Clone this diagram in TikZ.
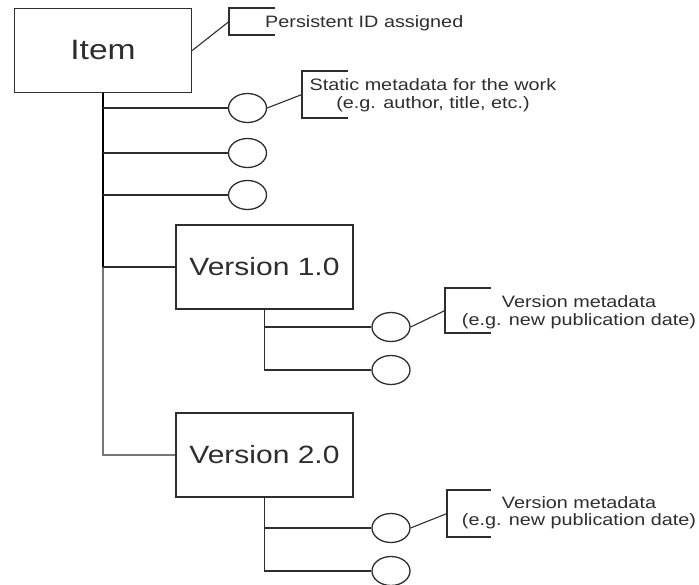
\documentclass[tikz,border=0pt]{standalone}
\usepackage{fontspec}
\setmainfont{Liberation Sans}[FakeStretch=1.2]
\usetikzlibrary{shapes.geometric}
\definecolor{ink}{HTML}{2E2E2E}
\definecolor{inklow}{HTML}{777777}
\begin{document}
\begin{tikzpicture}[x=1pt,y=-1pt,
  box/.style={draw=ink, line width=1.4pt, rectangle, minimum width=177pt, minimum height=84pt, inner sep=0pt, text=ink},
  attr/.style={draw=ink, line width=1.3pt, ellipse, minimum width=38pt, minimum height=29pt, inner sep=0pt},
  link/.style={draw=ink, line width=1.4pt},
  trunk/.style={draw=black, line width=2.2pt},
  trunklow/.style={draw=inklow, line width=2pt},
  note/.style={draw=ink, line width=1.1pt},
  lbl/.style={text=ink, inner sep=0pt, font=\fontsize{16.5}{19}\selectfont}]
\useasboundingbox (0,0) rectangle (699,584);
\fill[white] (0,0) rectangle (699,584);

% main boxes
\node[box, font=\fontsize{28}{30}\selectfont] (item) at (103,50.5) {Item};
\node[box, font=\fontsize{25}{28}\selectfont] (v1) at (264.5,267) {Version 1.0};
\node[box, font=\fontsize{25}{28}\selectfont] (v2) at (264.5,455) {Version 2.0};

% attribute circles
\node[attr] (a1) at (247.5,108) {};
\node[attr] (a2) at (247.5,153) {};
\node[attr] (a3) at (247.5,195) {};
\node[attr] (b1) at (391,327) {};
\node[attr] (b2) at (391,370) {};
\node[attr] (d1) at (391,528) {};
\node[attr] (d2) at (391,571) {};

% trunk
\coordinate (j1) at (item.south |- v1.west);
\coordinate (j2) at (item.south |- v2.west);
\draw[trunk] (item.south) -- (j1);
\draw[trunklow] (j1) -- (j2) -- (v2.west);
\draw[link] (j1) -- (v1.west);
\foreach \a in {a1,a2,a3}{
  \draw[link] (item.south |- \a.west) -- (\a.west);
}
% version sub-trunks
\draw[link] (v1.south) -- (v1.south |- b2.west) -- (b2.west);
\draw[link] (v1.south |- b1.west) -- (b1.west);
\draw[link] (v2.south) -- (v2.south |- d2.west) -- (d2.west);
\draw[link] (v2.south |- d1.west) -- (d1.west);

% annotation brackets
\coordinate (p) at (229,21.5);
\coordinate (s) at (302,94.5);
\coordinate (m1) at (445,310.5);
\coordinate (m2) at (447,513.5);
\draw[note] (p) ++(46,-13.5) -- ++(-46,0) -- ++(0,27) -- ++(46,0);
\draw[note] (s) ++(46,-23.5) -- ++(-46,0) -- ++(0,47) -- ++(46,0);
\draw[note] (m1) ++(46,-22.5) -- ++(-46,0) -- ++(0,45) -- ++(46,0);
\draw[note] (m2) ++(44,-23.5) -- ++(-44,0) -- ++(0,47) -- ++(44,0);
\draw[note] (item.east) -- (p);
\draw[note] (a1.east) -- (s);
\draw[note] (b1.east) -- (m1);
\draw[note] (d1.east) -- (m2);

% labels
\node[lbl, anchor=base west] (pid) at (265,27) {Persistent ID assigned};
\node[lbl, anchor=base] (st1) at (433,90) {Static metadata for the work};
\node[lbl, anchor=base] (st2) at (433,108) {(e.g. author, title, etc.)};
\node[lbl, anchor=base] (vm1a) at (579,307) {Version metadata};
\node[lbl, anchor=base] (vm1b) at (579,325) {(e.g. new publication date)};
\node[lbl, anchor=base] (vm2a) at (579,508) {Version metadata};
\node[lbl, anchor=base] (vm2b) at (579,525) {(e.g. new publication date)};
\end{tikzpicture}
\end{document}
